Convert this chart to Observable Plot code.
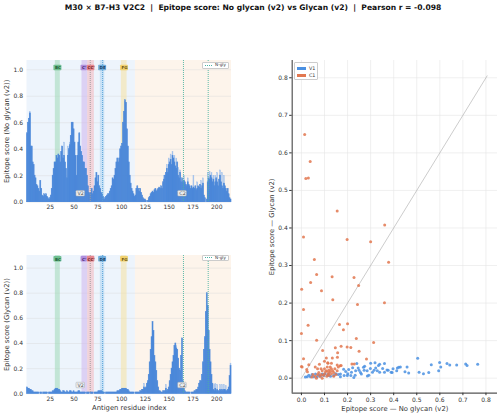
<!DOCTYPE html>
<html><head><meta charset="utf-8">
<script src="https://cdn.jsdelivr.net/npm/d3@7"></script>
<script src="https://cdn.jsdelivr.net/npm/@observablehq/plot@0.6"></script>
<style>
body{margin:0;background:#fff;font-family:"DejaVu Sans",sans-serif;}
#wrap{position:relative;width:500px;height:416px;overflow:hidden;background:#fff;}
.panel{position:absolute;}
#title{position:absolute;left:0;top:2.5px;width:506px;text-align:center;font-weight:bold;font-size:7.6px;white-space:pre;color:#111;}
.nleg{position:absolute;background:#fff;border:0.6px solid #ccc;border-radius:1px;font-size:4.2px;line-height:4.2px;color:#333;display:flex;align-items:center;padding:0 2px;box-sizing:border-box;white-space:nowrap;}
.nleg span.ln{display:inline-block;width:9px;border-top:1px dotted #4db3a3;margin-right:3px;}
#sleg{position:absolute;left:294px;top:61.5px;width:24px;height:18px;background:#fff;border:0.6px solid #ccc;border-radius:1px;font-size:4.8px;color:#333;box-sizing:border-box;padding:2px 1px 0 2px;}
#sleg div{display:flex;align-items:center;height:7px;}
#sleg i{display:inline-block;width:9px;height:3px;margin-right:3px;}
</style></head><body>
<div id="wrap">
<div id="title">M30 × B7-H3 V2C2  |  Epitope score: No glycan (v2) vs Glycan (v2)  |  Pearson r = -0.098</div>
</div>
<script>
// ---------------- data ----------------
// Epitope score, No glycan (v2), residues 1..215
const noGlycan = [
0.52,0.6,0.63,0.67,0.42,0.42,0.3,0.28,0.2,0.18,
0.13,0.12,0.1,0.08,0.16,0.1,0.05,0.04,0.06,0.05,
0.06,0.04,0.03,0.02,0.03,0.05,0.1,0.2,0.25,0.3,
0.3,0.35,0.33,0.36,0.35,0.3,0.38,0.42,0.33,0.35,
0.3,0.25,0.18,0.35,0.4,0.43,0.5,0.6,0.6,0.55,
0.45,0.35,0.2,0.35,0.45,0.52,0.42,0.38,0.35,0.3,
0.3,0.25,0.25,0.2,0.12,0.07,0.06,0.07,0.1,0.06,
0.08,0.12,0.18,0.22,0.15,0.2,0.12,0.1,0.07,0.06,
0.04,0.02,0.03,0.04,0.05,0.06,0.06,0.08,0.1,0.12,
0.18,0.17,0.2,0.25,0.3,0.33,0.3,0.33,0.4,0.42,
0.44,0.6,0.68,0.77,0.75,0.55,0.42,0.3,0.2,0.14,
0.1,0.08,0.06,0.04,0.05,0.1,0.12,0.1,0.08,0.1,
0.07,0.05,0.03,0.02,0.02,0.01,0.0,0.01,0.03,0.04,
0.06,0.07,0.08,0.07,0.09,0.1,0.08,0.09,0.1,0.11,
0.1,0.12,0.1,0.15,0.17,0.2,0.22,0.25,0.22,0.28,
0.3,0.32,0.28,0.35,0.33,0.3,0.27,0.25,0.3,0.2,
0.18,0.22,0.15,0.18,0.15,0.16,0.15,0.13,0.12,0.15,
0.13,0.12,0.1,0.12,0.1,0.11,0.1,0.12,0.09,0.1,
0.12,0.11,0.13,0.1,0.12,0.14,0.05,0.03,0.0,0.02,
0.15,0.18,0.17,0.2,0.18,0.15,0.17,0.12,0.15,0.18,
0.15,0.12,0.17,0.2,0.15,0.12,0.1,0.14,0.12,0.1,
0.08,0.1,0.06,0.03,0.02];
// lighter (upper) bars where visible: [residue, value]
const noGlycanUpper = [[4,0.68],[40,0.45],[44,0.42],[46,0.45],[145,0.2],[148,0.28],[150,0.33],[152,0.36],[154,0.38],[156,0.35],[158,0.33],[160,0.26],[162,0.24],[166,0.2],[170,0.18],[176,0.2],[180,0.15],[184,0.16],[186,0.18],[191,0.22],[193,0.23],[195,0.22],[197,0.2],[199,0.2],[201,0.22],[204,0.24],[206,0.22],[208,0.2]];
// Epitope score, Glycan (v2), residues 1..215
const glycan = [
0.05,0.04,0.04,0.03,0.03,0.02,0.02,0.01,0.01,0.01,
0.01,0.01,0.01,0.0,0.01,0.01,0.0,0.01,0.01,0.01,
0.01,0.01,0.0,0.01,0.01,0.01,0.01,0.02,0.02,0.03,
0.04,0.04,0.04,0.03,0.03,0.02,0.01,0.01,0.02,0.02,
0.01,0.01,0.02,0.01,0.01,0.02,0.02,0.01,0.01,0.02,
0.01,0.01,0.01,0.01,0.02,0.02,0.01,0.01,0.01,0.01,
0.01,0.01,0.0,0.01,0.01,0.01,0.0,0.01,0.01,0.01,
0.0,0.01,0.01,0.01,0.01,0.02,0.02,0.02,0.02,0.02,
0.01,0.01,0.0,0.01,0.01,0.01,0.01,0.01,0.01,0.01,
0.01,0.01,0.01,0.01,0.01,0.02,0.02,0.02,0.03,0.03,
0.04,0.04,0.04,0.04,0.04,0.03,0.03,0.02,0.01,0.01,
0.01,0.01,0.01,0.0,0.01,0.01,0.01,0.01,0.01,0.02,
0.02,0.03,0.03,0.05,0.04,0.05,0.08,0.1,0.15,0.25,
0.35,0.45,0.57,0.5,0.3,0.25,0.18,0.1,0.05,0.02,
0.02,0.01,0.01,0.02,0.02,0.02,0.04,0.02,0.03,0.05,
0.1,0.15,0.2,0.25,0.3,0.38,0.4,0.36,0.35,0.28,
0.2,0.18,0.3,0.44,0.1,0.04,0.02,0.01,0.01,0.01,
0.01,0.01,0.0,0.01,0.01,0.01,0.02,0.02,0.03,0.03,
0.05,0.08,0.1,0.1,0.15,0.25,0.35,0.45,0.65,0.8,
0.7,0.5,0.35,0.25,0.15,0.08,0.03,0.02,0.04,0.02,
0.03,0.02,0.02,0.03,0.02,0.03,0.02,0.03,0.03,0.02,
0.02,0.03,0.05,0.14,0.22];
const glycanUpper = [[124,0.08],[147,0.07],[158,0.38],[198,0.07],[199,0.08],[201,0.07],[204,0.07],[206,0.07],[208,0.07],[210,0.06],[215,0.24]];

// domains and loops
const domainNames = ["V2","C2"];
const domainStart = [0.5,114.5];
const domainEnd = [114.5,215.5];
const domainFill = ["#edf4fc","#fdf4eb"];
const domainLabelAt = [57,164];
const loopNames = ["BC","C'","CC'","DE","FG"];
const loopStart = [30.3,58.3,64.3,77.6,99.7];
const loopEnd = [35.5,64.3,71.3,82.2,105.7];
const loopFill = ["#9fd8b6","#cdb4ec","#f4b6bc","#a9d2f0","#f5e2a0"];
const loopBox = ["#5fb882","#a783d8","#e57a82","#5fa3d8","#f0cd60"];
const loopText = ["#1d5a33","#3f2470","#6b1a20","#173f66","#6b5410"];
const loopLabelAt = [33,60.6,67.9,80,103];
const loopHalfWidth = [4.2,3.3,4.0,4.2,4.2];
const markerLines = [67,80];
const markerColors = ["#9a9a9a","#4f9ed6"];
const nGlySites = [165,191];
const xTicks = [25,50,75,100,125,150,175,200];
const yTicks = [0,0.2,0.4,0.6,0.8,1.0];

// scatter: [no glycan, glycan]
const scatterV1 = [[0.563,0.036],[0.599,0.042],[0.604,0.030],[0.595,0.020],[0.631,0.039],[0.643,0.035],[0.673,0.035],[0.712,0.038],[0.718,0.034],[0.764,0.037],[0.510,0.016],[0.529,0.012],[0.504,0.053],[0.422,0.029],[0.429,0.030],[0.416,0.027],[0.397,0.025],[0.389,0.016],[0.371,0.022],[0.360,0.039],[0.360,0.016],[0.339,0.037],[0.334,0.034],[0.322,0.027],[0.299,0.026],[0.315,0.021],[0.308,0.016],[0.292,0.008],[0.269,0.029],[0.272,0.021],[0.256,0.015],[0.246,0.027],[0.235,0.020],[0.233,0.008],[0.227,0.002],[0.214,0.007],[0.199,0.007],[0.185,0.007],[0.169,0.004],[0.240,0.039],[0.274,0.032],[0.319,0.041],[0.300,0.040],[0.329,0.020],[0.286,0.006],[0.260,0.011],[0.222,0.028],[0.205,0.023],[0.183,0.024],[0.160,0.010],[0.140,0.007],[0.126,0.005],[0.114,0.007],[0.097,0.007],[0.082,0.005],[0.068,0.004],[0.053,0.004],[0.039,0.004],[0.025,0.004],[0.017,0.003],[0.032,0.008],[0.046,0.010],[0.061,0.011],[0.075,0.009],[0.090,0.011],[0.103,0.012],[0.118,0.011],[0.149,0.012],[0.169,0.011],[0.192,0.018],[0.201,0.012],[0.217,0.016],[0.250,0.021],[0.285,0.020],[0.352,0.026],[0.376,0.021],[0.393,0.015],[0.449,0.017],[0.465,0.014],[0.413,0.020],[0.339,0.016],[0.458,0.030],[0.552,0.015]];
const scatterC1 = [[0.014,0.649],[0.038,0.577],[0.019,0.532],[0.030,0.533],[0.155,0.445],[0.361,0.408],[0.009,0.376],[0.198,0.369],[0.300,0.363],[0.378,0.309],[0.056,0.316],[0.066,0.276],[0.133,0.270],[0.228,0.268],[0.040,0.255],[0.248,0.247],[0.001,0.237],[0.087,0.233],[0.136,0.209],[0.360,0.201],[0.243,0.196],[0.009,0.183],[0.029,0.141],[0.165,0.143],[0.200,0.145],[0.182,0.129],[0.000,0.119],[0.066,0.101],[0.238,0.106],[0.313,0.095],[0.092,0.074],[0.147,0.081],[0.172,0.085],[0.198,0.083],[0.214,0.082],[0.250,0.072],[0.157,0.068],[0.156,0.056],[0.009,0.052],[0.282,0.051],[0.108,0.054],[0.134,0.054],[0.000,0.031],[0.003,0.030],[0.032,0.036],[0.078,0.037],[0.114,0.041],[0.155,0.035],[0.168,0.033],[0.172,0.034],[0.219,0.038],[0.229,0.038],[0.023,0.023],[0.026,0.017],
[0.05,0.01],[0.06,0.005],[0.065,0.0],[0.07,0.01],[0.075,0.015],[0.08,0.005],[0.085,0.01],[0.09,0.02],[0.09,0.0],[0.095,0.008],[0.1,0.012],[0.1,0.025],[0.105,0.018],[0.11,0.005],[0.11,0.02],[0.112,0.03],[0.115,0.01],[0.118,0.015],[0.12,0.022],[0.12,0.008],[0.125,0.018],[0.125,0.03],[0.13,0.012],[0.13,0.025],[0.135,0.02],[0.14,0.015],[0.14,0.005],[0.145,0.025],[0.15,0.01],[0.155,0.02],[0.16,0.03],[0.07,0.025],[0.06,0.03],[0.045,0.003],[0.085,0.025],[0.115,0.04],[0.1,0.045],[0.13,0.04]];
const diagonalEnds = [0, 0.805];
const scatterTicks = [0,0.1,0.2,0.3,0.4,0.5,0.6,0.7,0.8];

// ---------------- drawing ----------------
const FONT = "DejaVu Sans";
const wrap = document.getElementById("wrap");

function place(el, left, top) {
  el.classList.add("panel");
  el.style.left = left + "px";
  el.style.top = top + "px";
  wrap.appendChild(el);
}

function barPanel({values, upper, ymax, yLabel, top, height, marginBottom, xLabel, loopY, boxH, domY}) {
  const bars = values.map((v, i) => ({r: i + 1, v}));
  const upBars = upper.map(([r, v]) => ({r, v}));
  const domains = domainNames.map((n, i) => ({n, s: domainStart[i], e: domainEnd[i], f: domainFill[i], at: domainLabelAt[i]}));
  const loops = loopNames.map((n, i) => ({n, s: loopStart[i], e: loopEnd[i], f: loopFill[i], b: loopBox[i], t: loopText[i], at: loopLabelAt[i], hw: loopHalfWidth[i]}));
  const markers = markerLines.map((x, i) => ({x, c: markerColors[i]}));
  const p = Plot.plot({
    width: 240, height, marginLeft: 26.5, marginRight: 9, marginTop: 10, marginBottom,
    style: {fontFamily: FONT, fontSize: "6px", color: "#333", background: "transparent"},
    x: {domain: [0.5, 215.5]},
    y: {domain: [0, ymax]},
    color: {type: "identity"},
    marks: [
      Plot.rect(domains, {x1: "s", x2: "e", y1: 0, y2: ymax, fill: "f"}),
      Plot.gridY(yTicks, {stroke: "#d8d8d8", strokeOpacity: 0.7, strokeWidth: 0.6}),
      Plot.rect(loops, {x1: "s", x2: "e", y1: 0, y2: ymax, fill: "f", fillOpacity: 0.55}),
      Plot.rect(upBars, {x1: d => d.r - 0.5, x2: d => d.r + 0.5, y1: 0, y2: "v", fill: "#a3c2ec", stroke: "#a3c2ec", strokeWidth: 0.4}),
      Plot.rect(bars, {x1: d => d.r - 0.5, x2: d => d.r + 0.5, y1: 0, y2: "v", fill: "#4a87d9", stroke: "#4a87d9", strokeWidth: 0.6}),
      Plot.ruleX(markers, {x: "x", stroke: "c", strokeWidth: 0.9, strokeDasharray: "1,1"}),
      Plot.ruleX(nGlySites, {stroke: "#4db3a3", strokeWidth: 0.9, strokeDasharray: "1,1"}),
      Plot.rect(loops, {x1: d => d.at - d.hw, x2: d => d.at + d.hw, y1: loopY - boxH, y2: loopY + boxH, fill: "b", fillOpacity: 0.85, rx: 0.8}),
      Plot.text(loops, {x: "at", y: loopY, text: "n", fill: "t", fontSize: 4.0, fontWeight: "bold"}),
      Plot.rect(domains, {x1: d => d.at - 4.5, x2: d => d.at + 4.5, y1: domY - boxH, y2: domY + boxH, fill: "#eceef0", stroke: "#aaa", strokeWidth: 0.5, rx: 0.8}),
      Plot.text(domains, {x: "at", y: domY, text: "n", fill: "#555", fontSize: 4.8}),
      Plot.axisX(xTicks, {tickSize: 0, tickPadding: 3, label: xLabel, labelAnchor: "center", labelOffset: 16, fontSize: 6, labelArrow: "none"}),
      Plot.axisY(yTicks, {tickSize: 0, tickPadding: 4, tickFormat: d3.format(".1f"), label: yLabel, labelAnchor: "center", labelOffset: 23, fontSize: 6, labelArrow: "none"})
    ]
  });
  p.querySelectorAll("[aria-label='y-axis label'] text, [aria-label='x-axis label'] text").forEach(t => t.setAttribute("font-size", "6.8"));
  place(p, 0, top);
}

barPanel({values: noGlycan, upper: noGlycanUpper, ymax: 1.07, yLabel: "Epitope score (No glycan (v2))",
  top: 50, height: 165, marginBottom: 13.3, xLabel: null, loopY: 1.014, boxH: 0.021, domY: 0.064});
barPanel({values: glycan, upper: glycanUpper, ymax: 1.10, yLabel: "Epitope score (Glycan (v2))",
  top: 245, height: 171, marginBottom: 22.7, xLabel: "Antigen residue index", loopY: 1.07, boxH: 0.022, domY: 0.066});

// N-gly legends
for (const t of [62, 254.5]) {
  const d = document.createElement("div");
  d.className = "nleg";
  d.style.left = "201.5px"; d.style.top = t + "px"; d.style.width = "27.5px"; d.style.height = "6.5px";
  d.innerHTML = '<span class="ln"></span>N-gly';
  wrap.appendChild(d);
}

// scatter
const sp = Plot.plot({
  width: 240, height: 366, marginLeft: 31.7, marginRight: 3, marginTop: 10, marginBottom: 23.3,
  style: {fontFamily: FONT, fontSize: "6px", color: "#333", background: "transparent"},
  x: {domain: [-0.04, 0.85]},
  y: {domain: [-0.04, 0.846]},
  marks: [
    Plot.gridX(scatterTicks, {stroke: "#e6e6e6", strokeOpacity: 1, strokeWidth: 0.6}),
    Plot.gridY(scatterTicks, {stroke: "#e6e6e6", strokeOpacity: 1, strokeWidth: 0.6}),
    Plot.line(diagonalEnds.map(v => [v, v]), {x: d => d[0], y: d => d[1], stroke: "#aaa", strokeWidth: 0.6}),
    Plot.dot(scatterV1, {x: d => d[0], y: d => d[1], r: 1.5, fill: "#4a90e2", fillOpacity: 0.85}),
    Plot.dot(scatterC1, {x: d => d[0], y: d => d[1], r: 1.5, fill: "#e2774f", fillOpacity: 0.85}),
    Plot.ruleX([-0.04], {stroke: "#555", strokeWidth: 1.2}),
    Plot.ruleY([-0.04], {stroke: "#555", strokeWidth: 1.2}),
    Plot.axisX(scatterTicks, {tickSize: 2.5, tickPadding: 2, tickFormat: d3.format(".1f"), label: "Epitope score — No glycan (v2)", labelAnchor: "center", labelOffset: 18, fontSize: 6, labelArrow: "none"}),
    Plot.axisY(scatterTicks, {tickSize: 2.5, tickPadding: 2, tickFormat: d3.format(".1f"), label: "Epitope score — Glycan (v2)", labelAnchor: "center", labelOffset: 22.7, fontSize: 6, labelArrow: "none"})
  ]
});
sp.querySelectorAll("[aria-label='y-axis label'] text, [aria-label='x-axis label'] text").forEach(t => t.setAttribute("font-size", "6.8"));
place(sp, 260, 50);

const leg = document.createElement("div");
leg.id = "sleg";
leg.innerHTML = '<div><i style="background:#4a90e2"></i>V1</div><div><i style="background:#e2774f"></i>C1</div>';
wrap.appendChild(leg);
</script>
</body></html>
